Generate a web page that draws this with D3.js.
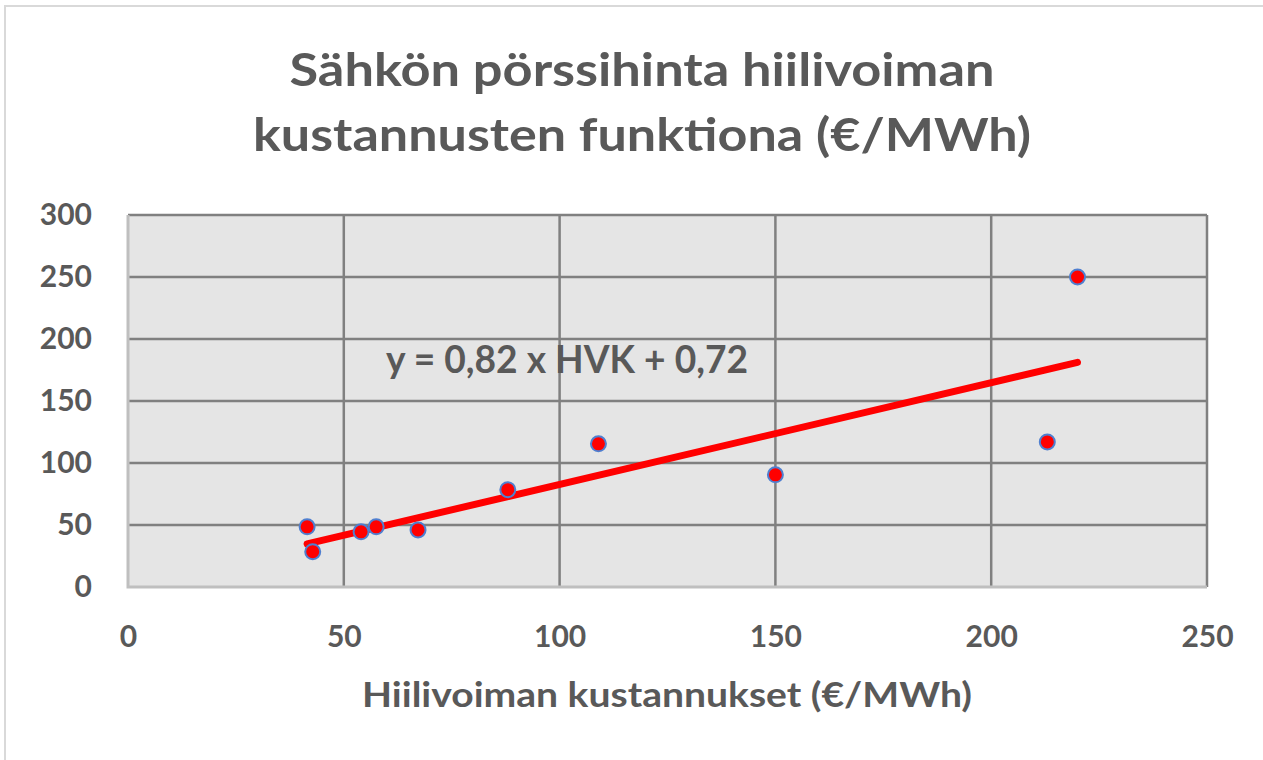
<!DOCTYPE html>
<html lang="fi">
<head>
    <meta charset="UTF-8">
    <title>Sähkön pörssihinta</title>
    <script src="https://cdn.jsdelivr.net/npm/d3@7"></script>
    <style>
        body { margin: 0; background: #fff; }
        text { font-family: Lato, "Open Sans", sans-serif; font-weight: bold; fill: #595959; }
    </style>
</head>
<body>
<svg id="canvas" width="1263" height="760"></svg>
<script>
    // hiilivoiman kustannukset (x) ja pörssihinta (y), €/MWh
    let hvk   = [41.5, 42.8, 54, 57.5, 67.2, 88, 109, 150, 213, 220];
    let price = [48.5, 28.5, 44.5, 48.5, 46, 78.5, 115.5, 90.5, 117, 250];
    let xTicks = [0, 50, 100, 150, 200, 250];
    let yTicks = [0, 50, 100, 150, 200, 250, 300];
    let slope = 0.82, intercept = 0.72;
    let titleLines = ["Sähkön pörssihinta hiilivoiman", "kustannusten funktiona (€/MWh)"];
    let xTitle = "Hiilivoiman kustannukset (€/MWh)";
    let equation = "y = 0,82 x HVK + 0,72";

    let svg = d3.select('svg');
    let margin = {left: 128, right: 1207, top: 215, bottom: 587};

    // chart frame
    svg.append('rect')
        .attr('x', 5).attr('y', 6).attr('width', 1270).attr('height', 770)
        .attr('fill', 'white').attr('stroke', '#d9d9d9').attr('stroke-width', 2);

    let x = d3.scaleLinear().domain([0, 250]).range([margin.left, margin.right]);
    let y = d3.scaleLinear().domain([0, 300]).range([margin.bottom, margin.top]);

    // plot area
    svg.append('rect')
        .attr('x', x(0)).attr('y', y(300))
        .attr('width', x(250) - x(0)).attr('height', y(0) - y(300))
        .attr('fill', '#e5e5e5');

    let grid = svg.append('g');
    grid.selectAll('line.h')
        .data(yTicks.filter(d => d > 0))
        .enter().append('line')
        .attr('x1', x(0)).attr('x2', x(250))
        .attr('y1', d => y(d)).attr('y2', d => y(d))
        .attr('stroke', '#808080').attr('stroke-width', 2.5);
    grid.selectAll('line.v')
        .data(xTicks.filter(d => d > 0))
        .enter().append('line')
        .attr('y1', y(0)).attr('y2', y(300))
        .attr('x1', d => x(d)).attr('x2', d => x(d))
        .attr('stroke', '#808080').attr('stroke-width', 2.5);
    // left and bottom border
    svg.append('path')
        .attr('d', `M${x(0)},${y(300)}V${y(0)}H${x(250)}`)
        .attr('fill', 'none').attr('stroke', '#bfbfbf').attr('stroke-width', 3);

    // axes
    let yAxis = d3.axisLeft(y).tickValues(yTicks).tickSize(0).tickPadding(36);
    let gy = svg.append('g').attr('transform', `translate(${x(0)},0)`).call(yAxis);
    let xAxis = d3.axisBottom(x).tickValues(xTicks).tickSize(0).tickPadding(39);
    let gx = svg.append('g').attr('transform', `translate(0,${y(0)})`).call(xAxis);
    [gx, gy].forEach(g => {
        g.select('.domain').remove();
        g.selectAll('text').attr('font-size', 30).style('font-family', 'Lato, sans-serif')
            .attr('fill', '#595959');
    });

    // trendline
    let xr = d3.extent(hvk);
    svg.append('line')
        .attr('x1', x(xr[0])).attr('y1', y(slope * xr[0] + intercept))
        .attr('x2', x(xr[1])).attr('y2', y(slope * xr[1] + intercept))
        .attr('stroke', '#ff0000').attr('stroke-width', 7).attr('stroke-linecap', 'round');

    // points
    svg.append('g').selectAll('circle')
        .data(hvk.map((d, i) => [d, price[i]]))
        .enter().append('circle')
        .attr('cx', d => x(d[0])).attr('cy', d => y(d[1]))
        .attr('r', 7.5)
        .attr('fill', '#ff0000').attr('stroke', '#4f7fd0').attr('stroke-width', 2);

    // texts
    svg.append('text').attr('x', 386).attr('y', 373).attr('font-size', 38)
        .attr('textLength', 362).attr('lengthAdjust', 'spacingAndGlyphs')
        .text(equation);

    let titleWidths = [705, 778];
    svg.selectAll('text.title')
        .data(titleLines)
        .enter().append('text')
        .attr('class', 'title')
        .attr('x', 642).attr('y', (d, i) => 86 + i * 65)
        .attr('text-anchor', 'middle').attr('font-size', 46)
        .attr('textLength', (d, i) => titleWidths[i]).attr('lengthAdjust', 'spacingAndGlyphs')
        .text(d => d);

    svg.append('text').attr('x', 667).attr('y', 707)
        .attr('text-anchor', 'middle').attr('font-size', 35)
        .attr('textLength', 610).attr('lengthAdjust', 'spacingAndGlyphs')
        .text(xTitle);
</script>
</body>
</html>
